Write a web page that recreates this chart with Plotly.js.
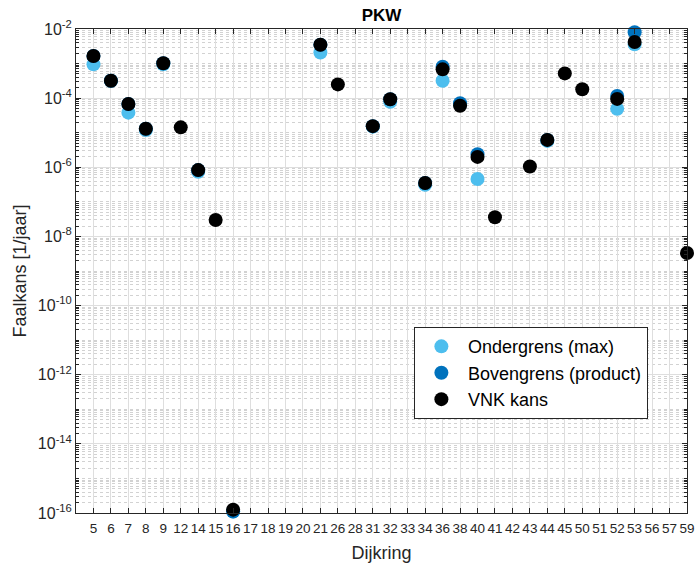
<!DOCTYPE html>
<html>
<head>
<meta charset="utf-8">
<script src="https://cdn.plot.ly/plotly-3.0.1.min.js"></script>
<style>html,body{margin:0;padding:0;background:#fff;}#chart{width:695px;height:567px;}</style>
</head>
<body>
<div id="chart"></div>
<script>
// Categories (dijkring numbers)
const categories = ['5','6','7','8','9','12','14','15','16','17','18','19','20','21','26','28','31','32','33','34','36','38','40','41','42','43','44','45','50','51','52','53','56','57','59'];

// Ondergrens (max) [1/jaar]
const ondergrens = [9.5e-4,3.2e-4,3.8e-5,1.2e-5,9.6e-4,null,7.4e-7,null,1.1e-16,null,null,null,null,2.1e-3,null,null,1.5e-5,7.9e-5,null,3.1e-7,3.2e-4,6.5e-5,4.6e-7,null,null,null,5.8e-6,null,null,null,4.9e-5,3.6e-3,null,null,null];

// Bovengrens (product) [1/jaar]
const bovengrens = [1.65e-3,3.2e-4,6.8e-5,1.3e-5,1.02e-3,null,8.3e-7,null,1.1e-16,null,null,null,null,3.5e-3,null,null,1.55e-5,9.3e-5,null,3.5e-7,8.1e-4,7.1e-5,2.4e-6,null,null,null,6.2e-6,null,null,null,1.15e-4,8.1e-3,null,null,null];

// VNK kans [1/jaar]
const vnk = [1.65e-3,3.2e-4,6.8e-5,1.3e-5,1.02e-3,1.43e-5,8.3e-7,3.0e-8,1.25e-16,null,null,null,null,3.5e-3,2.5e-4,null,1.55e-5,9.3e-5,null,3.5e-7,6.8e-4,6.0e-5,2.0e-6,3.6e-8,null,1.05e-6,6.2e-6,5.2e-4,1.8e-4,null,9.5e-5,4.2e-3,null,null,3.3e-9];

const yTickVals = [1e-16,1e-14,1e-12,1e-10,1e-8,1e-6,1e-4,1e-2];

const FONT = 'Liberation Sans, Arial, Helvetica, sans-serif';
const AX = '#262626';

function tr(name, y, color) {
  return {
    type: 'scatter', mode: 'markers', name: name,
    x: categories, y: y,
    marker: {size: 14, color: color, line: {width: 0}},
    cliponaxis: false
  };
}

const data = [
  tr('Ondergrens (max)', ondergrens, '#4DBEEE'),
  tr('Bovengrens (product)', bovengrens, '#0072BD'),
  tr('VNK kans', vnk, '#000000')
];

const layout = {
  width: 695, height: 567,
  margin: {l: 76, r: 8, t: 29, b: 54},
  paper_bgcolor: '#ffffff', plot_bgcolor: '#ffffff',
  font: {family: FONT, color: AX},
  title: {text: '<b>PKW</b>', font: {size: 17, family: FONT, color: '#000'},
          xref: 'paper', x: 0.5, xanchor: 'center',
          yref: 'container', y: 1 - 15.5/567, yanchor: 'middle'},
  showlegend: true,
  legend: {x: 0.553, y: 0.384, xanchor: 'left', yanchor: 'top',
           bgcolor: '#ffffff', bordercolor: AX, borderwidth: 1,
           itemwidth: 43,
           font: {size: 18, family: FONT, color: '#000'}},
  xaxis: {
    type: 'category', categoryorder: 'array', categoryarray: categories,
    range: [-1, 34],
    showline: true, linecolor: AX, linewidth: 1, mirror: 'ticks',
    ticks: 'inside', ticklen: 5, tickcolor: AX, tickwidth: 1,
    showgrid: true, gridcolor: '#dedede', gridwidth: 1,
    zeroline: false,
    ticklabelstandoff: 3,
    tickfont: {size: 13.5, family: FONT, color: AX},
    title: {text: 'Dijkring', font: {size: 18, family: FONT, color: AX}, standoff: 11}
  },
  yaxis: {
    type: 'log', range: [-16, -2],
    tickmode: 'array', tickvals: yTickVals,
    ticktext: yTickVals.map(v => '10<sup>' + Math.round(Math.log10(v)) + '</sup>'),
    showline: true, linecolor: AX, linewidth: 1, mirror: 'ticks',
    ticks: 'inside', ticklen: 5, tickcolor: AX, tickwidth: 1,
    showgrid: true, gridcolor: '#dedede', gridwidth: 1,
    zeroline: false,
    tickfont: {size: 16, family: FONT, color: AX},
    minor: {dtick: 'D1', tick0: 1, ticks: 'inside', ticklen: 3, tickcolor: AX,
            showgrid: true, gridcolor: '#d2d2d2', griddash: 'dot', gridwidth: 1},
    title: {text: 'Faalkans [1/jaar]', font: {size: 18, family: FONT, color: AX}, standoff: 6}
  }
};

Plotly.newPlot('chart', data, layout, {displayModeBar: false, staticPlot: true});
</script>
</body>
</html>
